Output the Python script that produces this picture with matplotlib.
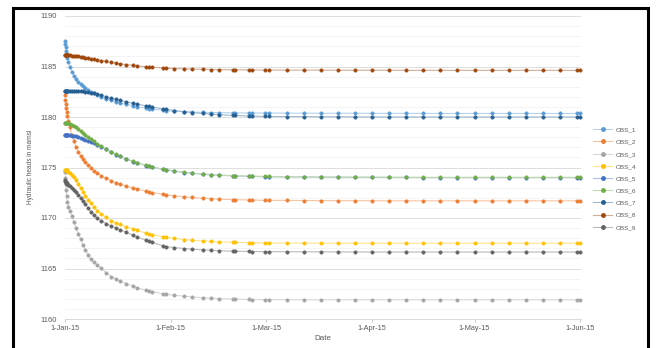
# -*- coding: utf-8 -*-
"""
Ganglinien der Piezometerhöhen an den Beobachtungspegeln OBS_1 bis OBS_9
(Jan. bis Jun. 2015).
"""
# Importiere die benötigten Module
from datetime import datetime
import matplotlib
matplotlib.use("Agg")
import matplotlib.pyplot as plt
import matplotlib.dates as mdates
from matplotlib.lines import Line2D
from matplotlib.patches import Rectangle
from matplotlib.ticker import MultipleLocator
import numpy as np

# Zeitschritte in Tagen ab dem 1.1.2015
t_days = [0, 0.1, 0.2, 0.35, 0.5, 0.7, 1.0, 1.4, 2.0, 2.6, 3.2, 3.9,
          4.6, 5.3, 6.0, 6.8, 7.6, 8.4, 9.5, 10.6, 12.0, 13.5, 15.0, 16.0,
          18.0, 20.0, 21.0, 23.7, 24.6, 25.5, 28.7, 29.6, 32.0, 35.0, 37.3, 40.3,
          42.8, 45.0, 49.1, 49.9, 53.8, 54.8, 58.7, 59.9,
          65, 70, 75, 80, 85, 90, 95, 100, 105, 110, 115, 120, 125, 130, 135,
          140, 145, 150, 151]

series_names = ["OBS_1", "OBS_2", "OBS_3", "OBS_4", "OBS_5", "OBS_6", "OBS_7", "OBS_8", "OBS_9"]

# Piezometerhöhen in m ü. NN
obs_1 = [1187.5, 1187.2, 1186.9, 1186.5, 1186.2, 1185.8, 1185.4, 1185.0, 1184.5, 1184.1, 1183.8, 1183.5,
         1183.25, 1183.05, 1182.85, 1182.65, 1182.5, 1182.35, 1182.15, 1182.0, 1181.8, 1181.65, 1181.5, 1181.4,
         1181.25, 1181.1, 1181.02, 1180.88, 1180.83, 1180.78, 1180.66, 1180.63, 1180.57, 1180.52, 1180.49, 1180.46,
         1180.44, 1180.43, 1180.41, 1180.41, 1180.4, 1180.4, 1180.39, 1180.39,
         1180.38, 1180.38, 1180.37, 1180.37, 1180.37, 1180.36, 1180.36, 1180.36, 1180.36, 1180.35,
         1180.35, 1180.35, 1180.35, 1180.35, 1180.35, 1180.35, 1180.35, 1180.35, 1180.35]
obs_2 = [1182.2, 1181.7, 1181.3, 1180.9, 1180.5, 1180.1, 1179.6, 1179.0, 1178.2, 1177.6, 1177.05, 1176.55,
         1176.15, 1175.8, 1175.5, 1175.2, 1174.95, 1174.7, 1174.45, 1174.2, 1173.95, 1173.7, 1173.5, 1173.38,
         1173.15, 1172.95, 1172.87, 1172.65, 1172.58, 1172.52, 1172.35, 1172.3, 1172.2, 1172.1, 1172.03, 1171.96,
         1171.91, 1171.87, 1171.82, 1171.81, 1171.78, 1171.77, 1171.75, 1171.75,
         1171.74, 1171.73, 1171.72, 1171.72, 1171.71, 1171.71, 1171.7, 1171.7, 1171.7, 1171.7,
         1171.7, 1171.7, 1171.7, 1171.7, 1171.7, 1171.7, 1171.7, 1171.7, 1171.7]
obs_3 = [1174.6, 1174.0, 1173.4, 1172.8, 1172.2, 1171.6, 1171.1, 1170.7, 1170.2, 1169.6, 1169.05, 1168.45,
         1167.9, 1167.35, 1166.85, 1166.35, 1165.9, 1165.6, 1165.35, 1165.05, 1164.6, 1164.2, 1163.95, 1163.8,
         1163.5, 1163.22, 1163.1, 1162.85, 1162.78, 1162.71, 1162.5, 1162.45, 1162.35, 1162.25, 1162.18, 1162.11,
         1162.06, 1162.02, 1161.97, 1161.96, 1161.94, 1161.93, 1161.92, 1161.92,
         1161.91, 1161.9, 1161.9, 1161.9, 1161.9, 1161.9, 1161.9, 1161.9, 1161.9, 1161.9,
         1161.9, 1161.9, 1161.9, 1161.9, 1161.9, 1161.9, 1161.9, 1161.9, 1161.9]
obs_4 = [1174.78, 1174.77, 1174.76, 1174.74, 1174.71, 1174.67, 1174.6, 1174.48, 1174.28, 1174.02, 1173.72, 1173.35,
         1172.97, 1172.6, 1172.22, 1171.82, 1171.45, 1171.12, 1170.72, 1170.4, 1170.05, 1169.75, 1169.5, 1169.36,
         1169.12, 1168.9, 1168.8, 1168.5, 1168.43, 1168.35, 1168.15, 1168.1, 1167.98, 1167.87, 1167.8, 1167.73,
         1167.68, 1167.64, 1167.6, 1167.59, 1167.56, 1167.55, 1167.53, 1167.53,
         1167.52, 1167.51, 1167.5, 1167.5, 1167.5, 1167.5, 1167.5, 1167.5, 1167.5, 1167.5,
         1167.5, 1167.5, 1167.5, 1167.5, 1167.5, 1167.5, 1167.5, 1167.5, 1167.5]
obs_5 = [1178.18, 1178.18, 1178.18, 1178.18, 1178.18, 1178.18, 1178.18, 1178.17, 1178.16, 1178.14, 1178.1, 1178.03,
         1177.95, 1177.85, 1177.74, 1177.62, 1177.5, 1177.38, 1177.22, 1177.06, 1176.8, 1176.52, 1176.27, 1176.11,
         1175.83, 1175.57, 1175.46, 1175.19, 1175.11, 1175.03, 1174.81, 1174.76, 1174.63, 1174.5, 1174.42, 1174.33,
         1174.27, 1174.23, 1174.17, 1174.16, 1174.12, 1174.11, 1174.09, 1174.08,
         1174.06, 1174.05, 1174.04, 1174.03, 1174.02, 1174.02, 1174.01, 1174.01, 1174.0, 1174.0,
         1174.0, 1174.0, 1174.0, 1174.0, 1174.0, 1174.0, 1174.0, 1174.0, 1174.0]
obs_6 = [1179.42, 1179.42, 1179.42, 1179.41, 1179.41, 1179.4, 1179.37, 1179.32, 1179.22, 1179.1, 1178.97, 1178.8,
         1178.62, 1178.43, 1178.24, 1178.02, 1177.82, 1177.62, 1177.36, 1177.12, 1176.83, 1176.55, 1176.3, 1176.14,
         1175.86, 1175.6, 1175.49, 1175.22, 1175.14, 1175.06, 1174.84, 1174.79, 1174.66, 1174.53, 1174.45, 1174.36,
         1174.3, 1174.26, 1174.2, 1174.19, 1174.15, 1174.14, 1174.12, 1174.11,
         1174.09, 1174.08, 1174.07, 1174.06, 1174.05, 1174.05, 1174.04, 1174.04, 1174.03, 1174.03,
         1174.03, 1174.03, 1174.03, 1174.03, 1174.03, 1174.03, 1174.03, 1174.03, 1174.03]
obs_7 = [1182.62, 1182.62, 1182.62, 1182.62, 1182.62, 1182.62, 1182.61, 1182.61, 1182.6, 1182.6, 1182.6, 1182.58,
         1182.56, 1182.54, 1182.5, 1182.45, 1182.4, 1182.33, 1182.24, 1182.15, 1182.02, 1181.88, 1181.75, 1181.66,
         1181.5, 1181.35, 1181.28, 1181.1, 1181.04, 1180.98, 1180.8, 1180.75, 1180.64, 1180.52, 1180.44, 1180.35,
         1180.28, 1180.23, 1180.16, 1180.15, 1180.1, 1180.09, 1180.06, 1180.05,
         1180.04, 1180.03, 1180.02, 1180.02, 1180.01, 1180.01, 1180.0, 1180.0, 1180.0, 1180.0,
         1180.0, 1180.0, 1180.0, 1180.0, 1180.0, 1180.0, 1180.0, 1180.0, 1180.0]
obs_8 = [1186.1, 1186.1, 1186.1, 1186.1, 1186.1, 1186.1, 1186.1, 1186.09, 1186.08, 1186.06, 1186.04, 1186.01,
         1185.97, 1185.93, 1185.88, 1185.83, 1185.78, 1185.73, 1185.66, 1185.59, 1185.5, 1185.41, 1185.33, 1185.28,
         1185.19, 1185.11, 1185.07, 1184.98, 1184.95, 1184.93, 1184.86, 1184.84, 1184.8, 1184.76, 1184.74, 1184.72,
         1184.7, 1184.69, 1184.68, 1184.67, 1184.66, 1184.66, 1184.65, 1184.65,
         1184.64, 1184.64, 1184.64, 1184.63, 1184.63, 1184.63, 1184.63, 1184.62, 1184.62, 1184.62,
         1184.62, 1184.62, 1184.62, 1184.62, 1184.62, 1184.62, 1184.62, 1184.62, 1184.62]
obs_9 = [1173.8, 1173.7, 1173.6, 1173.5, 1173.42, 1173.35, 1173.25, 1173.15, 1172.98, 1172.78, 1172.55, 1172.28,
         1172.0, 1171.7, 1171.35, 1170.95, 1170.6, 1170.3, 1169.98, 1169.72, 1169.45, 1169.22, 1169.0, 1168.86,
         1168.58, 1168.28, 1168.14, 1167.8, 1167.7, 1167.6, 1167.25, 1167.17, 1167.07, 1166.98, 1166.92, 1166.85,
         1166.8, 1166.76, 1166.72, 1166.71, 1166.69, 1166.68, 1166.67, 1166.67,
         1166.66, 1166.65, 1166.65, 1166.64, 1166.64, 1166.63, 1166.63, 1166.63, 1166.63, 1166.63,
         1166.63, 1166.63, 1166.63, 1166.63, 1166.63, 1166.63, 1166.63, 1166.63, 1166.63]

# Office-Standardfarben für die neun Reihen
colors = ["#5B9BD5", "#ED7D31", "#A5A5A5", "#FFC000", "#4472C4",
          "#70AD47", "#255E91", "#9E480E", "#636363"]

y_ticks = [1160, 1165, 1170, 1175, 1180, 1185, 1190]
month_ticks = [datetime(2015, m, 1) for m in range(1, 7)]

text_grey = "#595959"
plt.rcParams["font.family"] = ["Liberation Sans", "DejaVu Sans"]


# Linie etwas heller als die Marker (wie im Excel-Diagramm)
def aufhellen(farbe, anteil=0.55):
    rgb = np.array(matplotlib.colors.to_rgb(farbe))
    return tuple(rgb + (1 - rgb) * anteil)


fig = plt.figure(figsize=(6.56, 3.48), dpi=100)
ax = fig.add_axes([65 / 656, 1 - 319 / 348, 516 / 656, 303 / 348])

x0 = mdates.date2num(datetime(2015, 1, 1))
x = x0 + np.array(t_days)

alle_reihen = [obs_1, obs_2, obs_3, obs_4, obs_5, obs_6, obs_7, obs_8, obs_9]
handles = []
for name, werte, farbe in zip(series_names, alle_reihen, colors):
    ax.plot(x, werte, color=aufhellen(farbe), lw=0.8, zorder=2)
    ax.plot(x, werte, linestyle="none", marker="o", markersize=2.5,
            markerfacecolor=farbe, markeredgecolor=farbe, markeredgewidth=0.3,
            clip_on=False, zorder=3)
    handles.append(Line2D([], [], color=aufhellen(farbe), lw=0.8, marker="o",
                          markersize=2.5, markerfacecolor=farbe, markeredgecolor=farbe))

# Achsen
ax.set_ylim(1160, 1190)
ax.set_yticks(y_ticks)
ax.yaxis.set_minor_locator(MultipleLocator(1))
ax.set_xlim(x0, x0 + 151.2)
ax.set_xticks(mdates.date2num(month_ticks))
ax.xaxis.set_major_formatter(mdates.DateFormatter("%-d-%b-%y"))

ax.grid(axis="y", which="major", color="#D9D9D9", lw=0.6, zorder=0)
ax.grid(axis="y", which="minor", color="#F2F2F2", lw=0.6, zorder=0)
ax.set_axisbelow(True)
for s in ["top", "right", "left"]:
    ax.spines[s].set_visible(False)
ax.spines["bottom"].set_color("#D9D9D9")
ax.spines["bottom"].set_linewidth(0.7)

ax.tick_params(axis="y", which="both", length=0, pad=6, labelsize=5.4, labelcolor=text_grey)
ax.tick_params(axis="x", which="major", length=2, width=0.6, color="#BFBFBF", pad=2.5,
               labelsize=5.3, labelcolor=text_grey)

# Achsenbeschriftungen
fig.text(323 / 656, 1 - 338 / 348, "Date", ha="center", va="center", fontsize=5.8, color=text_grey)
fig.text(30 / 656, 1 - 167 / 348, "Hydraulic heads in mamsl", rotation=90,
         ha="center", va="center", fontsize=4.7, color=text_grey)

# Legende rechts neben dem Diagramm
fig.legend(handles, series_names, loc="upper left", bbox_to_anchor=(593 / 656, 1 - 127 / 348),
           frameon=False, fontsize=4.6, labelcolor=text_grey, handlelength=3.0,
           handletextpad=0.5, labelspacing=1.05, borderaxespad=0, borderpad=0)

# Rahmen um die gesamte Grafik
fig.add_artist(Rectangle((13 / 656, -0.1), 635 / 656, 1.1 - 8 / 348, transform=fig.transFigure,
                         fill=False, edgecolor="black", lw=2.2))

fig.savefig("out.png", dpi=100)
